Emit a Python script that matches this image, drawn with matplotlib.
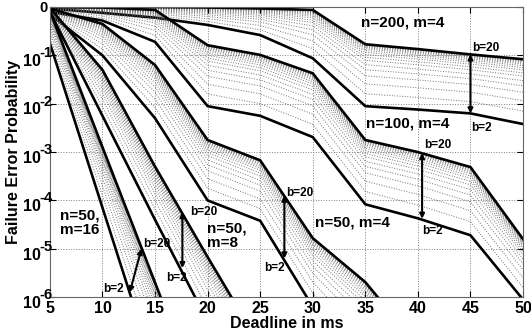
import numpy as np
import matplotlib.pyplot as plt

plt.rcParams['font.family'] = 'Liberation Sans'
plt.rcParams['font.weight'] = 'bold'

# deadline (ms)
deadline = [5, 10, 15, 20, 25, 30, 35, 40, 45, 50]

# log10 of failure error probability
n200_b20 = [0, 0, 0, -0.01, -0.03, -0.06, -0.77, -0.87, -0.98, -1.08]
n200_b2 = [-0.03, -0.12, -0.22, -0.37, -0.58, -1.06, -2.05, -2.12, -2.2, -2.42]
n100_b20 = [0, -0.01, -0.06, -0.79, -0.99, -1.37, -2.75, -3.0, -3.31, -4.8]
n100_b2 = [-0.1, -0.28, -0.72, -2.05, -2.25, -2.69, -4.08, -4.37, -4.72, -6.05]
n50m4_b20 = [-0.03, -0.35, -1.2, -2.75, -3.17, -4.78, -5.69, -7.0, -8.0, -9.0]
n50m4_b2 = [-0.15, -1.0, -2.3, -4.0, -4.42, -6.2, -7.5, -8.5, -9.5, -10.5]
n50m8_b20 = [-0.02, -1.3, -3.3, -5.17, -7.0, -9.0, -11.0, -13.0, -15.0, -17.0]
n50m8_b2 = [-0.1, -2.25, -4.4, -6.5, -8.6, -10.7, -12.8, -14.9, -17.0, -19.0]
n50m16_b20 = [-0.08, -2.9, -5.7, -8.5, -11.3, -14.0, -17.0, -20.0, -23.0, -26.0]
n50m16_b2 = [-0.75, -4.15, -7.55, -11.0, -14.4, -17.8, -21.0, -24.0, -27.0, -30.0]

families = [(n200_b2, n200_b20), (n100_b2, n100_b20), (n50m4_b2, n50m4_b20),
            (n50m8_b2, n50m8_b20), (n50m16_b2, n50m16_b20)]

# share of the b=2 -> b=20 gap closed for b = 2..20 (estimated from the dotted curves)
b_share = [0.0, 0.2, 0.36, 0.49, 0.59, 0.67, 0.74, 0.79, 0.835, 0.87,
           0.9, 0.925, 0.945, 0.96, 0.973, 0.983, 0.991, 0.997, 1.0]

# arrows (x_top, logy_top, x_bottom, logy_bottom)
arrows = [(45.0, -0.98, 45.0, -2.2), (40.4, -3.02, 40.4, -4.38),
          (27.3, -3.9, 27.3, -5.2), (17.6, -4.24, 17.6, -5.4),
          (13.7, -5.0, 12.6, -5.9)]
# b labels (x, logy, text)
b_labels = [(45.2, -0.85, 'b=20'), (45.1, -2.5, 'b=2'),
            (40.6, -2.86, 'b=20'), (40.4, -4.64, 'b=2'),
            (27.5, -3.85, 'b=20'), (25.4, -5.4, 'b=2'),
            (18.3, -4.24, 'b=20'), (16.1, -5.6, 'b=2'),
            (13.9, -4.9, 'b=20'), (10.1, -5.84, 'b=2')]
fam_labels = [(34.6, -0.33, 'n=200, m=4'), (35.1, -2.4, 'n=100, m=4'),
              (30.2, -4.45, 'n=50, m=4'), (19.9, -4.73, 'n=50,\nm=8'),
              (6.0, -4.46, 'n=50,\nm=16')]
decades = [-6, -5, -4, -3, -2, -1, 0]

fig = plt.figure(figsize=(5.31, 3.35), dpi=100)
ax = fig.add_axes([0.094, 0.113, 0.891, 0.866])

x = np.array(deadline)
for lo, hi in families:
    lo = np.array(lo)
    hi = np.array(hi)
    for s in b_share[1:-1]:
        ax.semilogy(x, 10 ** (lo + s * (hi - lo)), ls=':', color='0.45', lw=0.7)
    ax.semilogy(x, 10 ** lo, color='k', lw=1.9)
    ax.semilogy(x, 10 ** hi, color='k', lw=1.9)

for x1, y1, x2, y2 in arrows:
    ax.annotate('', xy=(x2, 10 ** y2), xytext=(x1, 10 ** y1),
                arrowprops=dict(arrowstyle='<|-|>', color='k', lw=1.5,
                                mutation_scale=7, shrinkA=0, shrinkB=0))
for bx, by, t in b_labels:
    ax.text(bx, 10 ** by, t, fontsize=8.5, va='center', ha='left')
for fx, fy, t in fam_labels:
    ax.text(fx, 10 ** fy, t, fontsize=11, va='center', ha='left', linespacing=1.0)

ax.set_xlim(5, 50)
ax.set_ylim(1e-6, 1)
ax.set_xticks(range(5, 51, 5))
ax.set_xticklabels([str(v) for v in range(5, 51, 5)], fontsize=11.5)
ax.set_yticks([10.0 ** d for d in decades])
ax.set_yticklabels([])
# MATLAB-style tick labels: "10" with a large exponent above it
for d in decades:
    if d != 0:
        ax.annotate('10', xy=(0, 10.0 ** d), xycoords=('axes fraction', 'data'),
                    xytext=(-6.5, -4.5), textcoords='offset points',
                    ha='right', va='center', fontsize=11.5, annotation_clip=False)
        dy = 1.5
    else:
        dy = -0.5
    ax.annotate(str(d), xy=(0, 10.0 ** d), xycoords=('axes fraction', 'data'),
                xytext=(-7.5, dy), textcoords='offset points',
                ha='left', va='center', fontsize=10.5, annotation_clip=False)
ax.minorticks_off()
ax.tick_params(direction='in', top=True, right=True, length=4, pad=3)
ax.grid(True, ls=':', color='0.5', lw=0.7)
for sp in ax.spines.values():
    sp.set_color('0.4')
ax.set_xlabel('Deadline in ms', fontsize=11.5, fontweight='bold', labelpad=0)
ax.set_ylabel('Failure Error Probability', fontsize=11.5, fontweight='bold')
ax.yaxis.set_label_coords(-0.062, 0.5)

fig.savefig('out.png', dpi=100)
